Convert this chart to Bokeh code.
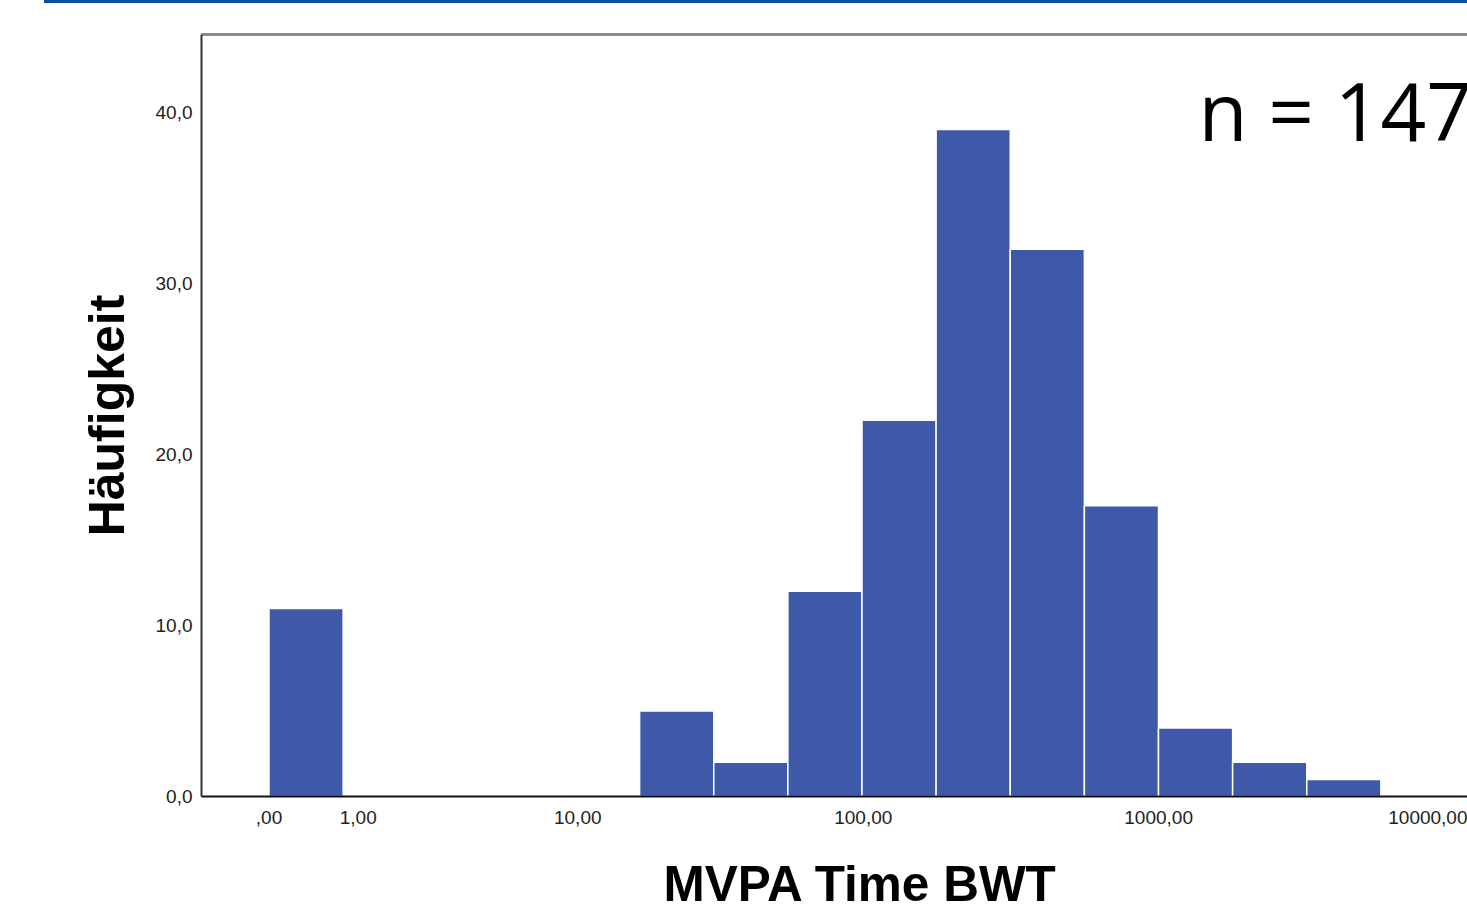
import math
from bokeh.plotting import figure
from bokeh.models import (Range1d, FixedTicker, CustomJSTickFormatter, LinearAxis,
                          Label, Title, ColumnDataSource)
from bokeh.embed import file_html
from bokeh.resources import INLINE

# ---- data (x is log10(MVPA + 1); bins of width 0.25) ----
bin_left = [0.0, 1.25, 1.5, 1.75, 2.0, 2.25, 2.5, 2.75, 3.0, 3.25, 3.5]
bin_width = 0.25
counts = [11, 5, 2, 12, 22, 39, 32, 17, 4, 2, 1]
x_tick_values = [0, 1, 10, 100, 1000, 10000]
y_tick_values = [0, 10, 20, 30, 40]
x_title = "MVPA Time BWT"
y_title = "Häufigkeit"
n_total = sum(counts)

# ---- layout constants ----
W, H = 1467, 913
left_b, top_b, bottom_b = 201, 34, 117
px_per_x = 296.5
px_per_y = 17.1
x0_px = 268.5 - left_b
x_start = -x0_px / px_per_x
x_end = x_start + (W - left_b) / px_per_x
y_end = (H - top_b - bottom_b) / px_per_y

p = figure(width=W, height=H, output_backend="svg", toolbar_location=None,
           x_range=Range1d(x_start, x_end), y_range=Range1d(0, y_end),
           min_border_left=left_b, min_border_top=top_b,
           min_border_bottom=bottom_b, min_border_right=0,
           x_axis_type=None, y_axis_type=None)
p.outline_line_color = None
p.background_fill_color = "white"
p.border_fill_color = None
p.border_fill_alpha = 0
p.styles = {
    "background-color": "white",
    "background-image": "linear-gradient(#0b4f9e, #0b4f9e)",
    "background-size": "1423px 3px",
    "background-position": "44px 0px",
    "background-repeat": "no-repeat",
}
p.xgrid.visible = False
p.ygrid.visible = False

src = ColumnDataSource(dict(
    left=bin_left,
    right=[b + bin_width for b in bin_left],
    top=counts,
    bottom=[0] * len(counts),
))
p.quad(left="left", right="right", top="top", bottom="bottom", source=src,
       fill_color="#3e59a8", line_color="white", line_width=1.5)

font = "Liberation Sans"

# x axis
xax = LinearAxis(
    ticker=FixedTicker(ticks=[math.log10(v + 1) for v in x_tick_values]),
    formatter=CustomJSTickFormatter(code="""
        const v = Math.round(Math.pow(10, tick) - 1);
        return (v === 0 ? "" : String(v)) + ",00";
    """))
xax.axis_line_color = "#111111"
xax.axis_line_width = 2
xax.major_tick_line_color = None
xax.minor_tick_line_color = None
xax.major_label_standoff = 8
xax.major_label_text_font = font
xax.major_label_text_font_size = "19px"
xax.major_label_text_color = "#222222"
p.add_layout(xax, "below")

# blank spacer between the tick labels and the x title
p.add_layout(Title(text=" ", text_font=font, text_font_size="10px",
                   standoff=14, text_color="white"), "below")

# x title
p.add_layout(Title(text=x_title, align="left", offset=462,
                   text_font=font, text_font_style="bold", text_font_size="49.5px",
                   text_color="black", standoff=0), "below")

# y axis
yax = LinearAxis(
    ticker=FixedTicker(ticks=y_tick_values),
    formatter=CustomJSTickFormatter(code="""
        return tick.toFixed(1).replace('.', ',');
    """))
yax.axis_line_color = "#333333"
yax.axis_line_width = 2
yax.major_tick_line_color = None
yax.minor_tick_line_color = None
yax.major_label_standoff = 3
yax.major_label_text_font = font
yax.major_label_text_font_size = "19px"
yax.major_label_text_color = "#222222"
yax.axis_label = y_title
yax.axis_label_text_font = font
yax.axis_label_text_font_style = "bold"
yax.axis_label_text_font_size = "50px"
yax.axis_label_text_color = "black"
yax.axis_label_standoff = 18
p.add_layout(yax, "left")

# top frame line
tax = LinearAxis(ticker=FixedTicker(ticks=[]))
tax.axis_line_color = "#8c8c8c"
tax.axis_line_width = 3
tax.major_tick_line_color = None
tax.minor_tick_line_color = None
tax.major_label_text_font_size = "0px"
p.add_layout(tax, "above")

# n label
p.add_layout(Label(x=(1198 - 268.5) / px_per_x, y=(796 - 109) / px_per_y,
                   text=f"n = {n_total}", text_align="left", text_baseline="alphabetic",
                   text_font="Open Sans", text_font_size="80px", text_color="black"))

open("out.html", "w").write(file_html(p, INLINE))
